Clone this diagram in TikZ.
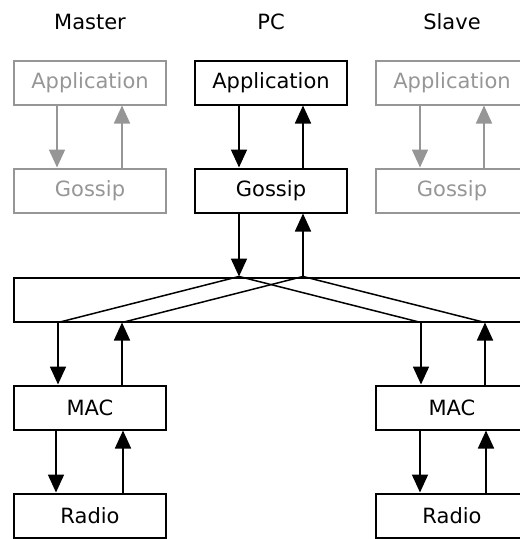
\documentclass[tikz,border=0pt]{standalone}
\usepackage{fontspec}
\setmainfont{DejaVu Sans}
\usepackage{tikz}
\definecolor{gg}{RGB}{150, 150, 150}
\usetikzlibrary{positioning}
\usetikzlibrary{arrows.meta}

\begin{document}
\begin{tikzpicture}[
  layer/.style={draw=black, line width=2pt, minimum width=152pt, minimum height=44pt, inner sep=0pt, font=\fontsize{21}{25}\selectfont},
  ghost/.style={layer, draw=gg, text=gg},
  title/.style={font=\fontsize{21}{25}\selectfont},
  flow/.style={line width=1.8pt, -{Triangle[length=18pt, width=16pt]}},
  gflow/.style={flow, draw=gg, fill=gg}]
\useasboundingbox (0pt, 0pt) rectangle (520pt, -539pt);
\clip (0pt, 0pt) rectangle (520pt, -539pt);
\node (master) [title] at (90pt, -22pt) {Master};
\node (pc) [title] at (271pt, -22pt) {PC};
\node (slave) [title] at (452pt, -22pt) {Slave};
\node (mapp) [ghost] at (90pt, -82.5pt) {Application};
\node (mgos) [ghost] at (90pt, -190.5pt) {Gossip};
\node (papp) [layer] at (271pt, -82.5pt) {Application};
\node (pgos) [layer] at (271pt, -190.5pt) {Gossip};
\node (sapp) [ghost] at (452pt, -82.5pt) {Application};
\node (sgos) [ghost] at (452pt, -190.5pt) {Gossip};
\node (net) [layer, minimum width=514pt] at (271pt, -299.5pt) {};
\node (lmac) [layer] at (90pt, -407.5pt) {MAC};
\node (lrad) [layer] at (90pt, -515.5pt) {Radio};
\node (rmac) [layer] at (452pt, -407.5pt) {MAC};
\node (rrad) [layer] at (452pt, -515.5pt) {Radio};
% application <-> gossip
\draw [gflow] ([xshift=-33pt]mapp.south) to ([xshift=-33pt]mgos.north);
\draw [gflow] ([xshift=32pt]mgos.north) to ([xshift=32pt]mapp.south);
\draw [flow] ([xshift=-32pt]papp.south) to ([xshift=-32pt]pgos.north);
\draw [flow] ([xshift=32pt]pgos.north) to ([xshift=32pt]papp.south);
\draw [gflow] ([xshift=-32pt]sapp.south) to ([xshift=-32pt]sgos.north);
\draw [gflow] ([xshift=32pt]sgos.north) to ([xshift=32pt]sapp.south);
% gossip <-> net
\coordinate (pd) at ([xshift=-32pt]pgos.south);
\coordinate (pu) at ([xshift=32pt]pgos.south);
\coordinate (ld) at ([xshift=-32pt]lmac.north);
\coordinate (lu) at ([xshift=32pt]lmac.north);
\coordinate (rd) at ([xshift=-31pt]rmac.north);
\coordinate (ru) at ([xshift=33pt]rmac.north);
\draw [flow] (pd) to (pd |- net.north);
\draw [flow] (pu |- net.north) to (pu);
\draw [line width=1.5pt] (pd |- net.north) to (ld |- net.south);
\draw [line width=1.5pt] (pd |- net.north) to (rd |- net.south);
\draw [line width=1.5pt] (pu |- net.north) to (lu |- net.south);
\draw [line width=1.5pt] (pu |- net.north) to (ru |- net.south);
% net <-> mac
\draw [flow] (ld |- net.south) to (ld);
\draw [flow] (lu) to (lu |- net.south);
\draw [flow] (rd |- net.south) to (rd);
\draw [flow] (ru) to (ru |- net.south);
% mac <-> radio
\draw [flow] ([xshift=-34pt]lmac.south) to ([xshift=-34pt]lrad.north);
\draw [flow] ([xshift=33pt]lrad.north) to ([xshift=33pt]lmac.south);
\draw [flow] ([xshift=-32pt]rmac.south) to ([xshift=-32pt]rrad.north);
\draw [flow] ([xshift=34pt]rrad.north) to ([xshift=34pt]rmac.south);
\end{tikzpicture}
\end{document}
